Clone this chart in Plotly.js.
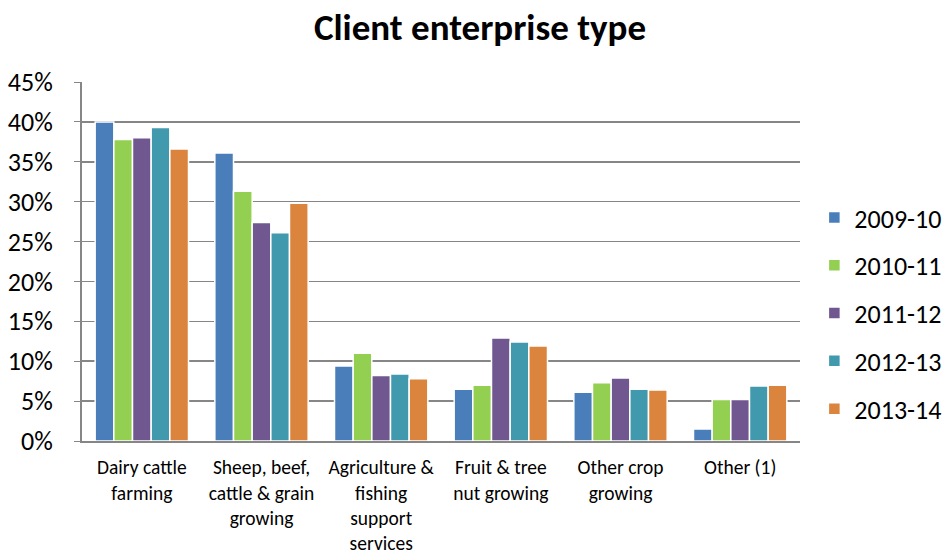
<!DOCTYPE html>
<html>
<head>
<meta charset="utf-8">
<script src="https://cdn.plot.ly/plotly-3.0.1.min.js"></script>
<style>
  html, body { margin: 0; padding: 0; background: #fff; }
  #chart { width: 943px; height: 554px; }
</style>
</head>
<body>
<div id="chart"></div>
<script>
// Enterprise categories (axis labels, with line breaks)
const categories = [
  "Dairy cattle<br>farming",
  "Sheep, beef,<br>cattle & grain<br>growing",
  "Agriculture &<br>fishing<br>support<br>services",
  "Fruit & tree<br>nut growing",
  "Other crop<br>growing",
  "Other (1)"
];

// Share of clients per financial year (%)
const years = ["2009-10", "2010-11", "2011-12", "2012-13", "2013-14"];
const y2009_10 = [40.0, 36.1, 9.4, 6.5, 6.1, 1.5];
const y2010_11 = [37.8, 31.3, 11.0, 7.0, 7.3, 5.2];
const y2011_12 = [38.0, 27.4, 8.2, 12.9, 7.9, 5.2];
const y2012_13 = [39.3, 26.1, 8.4, 12.4, 6.5, 6.9];
const y2013_14 = [36.6, 29.8, 7.8, 11.9, 6.4, 7.0];

const seriesValues = [y2009_10, y2010_11, y2011_12, y2012_13, y2013_14];
const colors = ["#4a7ebb", "#93cf50", "#70578f", "#4199ae", "#db843d"];

const font = "Calibri, Carlito, 'Open Sans', 'Liberation Sans', sans-serif";

const traces = years.map((yr, i) => ({
  type: "bar",
  name: yr,
  x: categories,
  y: seriesValues[i].map(v => v / 100),
  legendgroup: yr,
  marker: { color: colors[i], line: { color: "#ffffff", width: 1.5 } },
  hoverinfo: "name+y"
}));

const layout = {
  width: 943,
  height: 554,
  paper_bgcolor: "#ffffff",
  plot_bgcolor: "#ffffff",
  margin: { l: 82, r: 143, t: 82, b: 113, autoexpand: false },
  font: { family: font, color: "#000000" },
  title: {
    text: "<b>Client enterprise type</b>",
    font: { family: font, size: 37, color: "#000000" },
    x: 0.509, xanchor: "center",
    y: 0.952, yanchor: "middle"
  },
  barmode: "group",
  bargap: 0.22,
  bargroupgap: 0.0,
  xaxis: {
    type: "category",
    showline: true,
    linecolor: "#868686",
    linewidth: 2,
    ticks: "",
    ticklabelstandoff: 8,
    tickfont: { family: font, size: 19.5, color: "#000" },
    showgrid: false
  },
  yaxis: {
    range: [0, 0.45],
    dtick: 0.05,
    tickformat: ".0%",
    showline: true,
    linecolor: "#868686",
    linewidth: 2,
    ticks: "outside",
    ticklen: 6,
    tickcolor: "#868686",
    ticklabelstandoff: 16,
    showgrid: true,
    gridcolor: "#868686",
    gridwidth: 1.5,
    zeroline: false,
    tickfont: { family: font, size: 26, color: "#000" }
  },
  legend: {
    x: 1.02, xanchor: "left",
    y: 0.355, yanchor: "middle",
    font: { family: font, size: 26, color: "#000" },
    tracegroupgap: 11,
    itemwidth: 30
  },
  showlegend: true
};

Plotly.newPlot("chart", traces, layout, { displayModeBar: false, staticPlot: true });
</script>
</body>
</html>
